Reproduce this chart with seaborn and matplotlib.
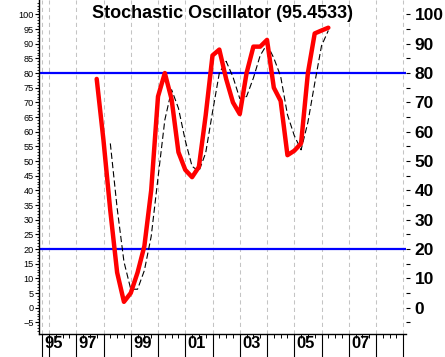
import numpy as np
import pandas as pd
import matplotlib
matplotlib.use("Agg")
import matplotlib.pyplot as plt
import matplotlib.transforms as mtransforms
from matplotlib.ticker import FixedLocator, NullFormatter
import seaborn as sns

# ---------------- data ----------------
quarters = np.arange(1997.75, 2006.26, 0.25)          # quarterly time axis (decimal years)
k_values = [78, 57, 33, 12, 2, 5, 12, 21, 40, 72, 80, 71, 53, 47, 44.5, 48, 65.6, 86,
            88, 78, 70, 66, 80, 89, 89, 91.3, 75, 70.5, 52, 53.5, 56, 80, 93.5, 94.5, 95.45]
d_values = [np.nan, np.nan, 56, 34, 15.7, 6.3, 6.3, 12.7, 24.3, 44.3, 64, 74.3, 68, 57,
            48.2, 46.5, 52.8, 66.7, 80, 84, 78.7, 71.3, 72, 78.3, 86, 89.8, 85.1, 78.9,
            65.8, 58.7, 53.8, 63.2, 76.5, 89.3, 94.5]
levels = [80, 20]
year_labels = ["95", "97", "99", "01", "03", "05", "07", "09"]
label_years = [1995.75, 1997, 1999, 2001, 2003, 2005, 2007, 2009]
title = "Stochastic Oscillator (95.4533)"

df = pd.DataFrame({"t": quarters, "k": k_values, "d": d_values})

# ---------------- figure ----------------
sns.set_style("white")
plt.rcParams["font.family"] = ["Liberation Sans", "DejaVu Sans"]
plt.rcParams["lines.scale_dashes"] = False

W, H = 445, 357
fig = plt.figure(figsize=(W / 100, H / 100), dpi=100)
L, R, T, B = 39, 406, 0, 334
ax = fig.add_axes([L / W, (H - B) / H, (R - L) / W, (B - T) / H])
ax.set_facecolor("white")

ymin, ymax = -8.97, 104.9
xmin, xmax = 1995.633, 2009.10
ax.set_xlim(xmin, xmax)
ax.set_ylim(ymin, ymax)

# vertical dashed grid
for gx in [1995.75] + list(range(1996, 2010)):
    ax.axvline(gx, color="#c4c4c4", lw=0.75, dashes=(3, 2.4), zorder=1)

# level lines
for lv in levels:
    ax.axhline(lv, color="#0000FF", lw=1.6, zorder=2)

# %D dashed black, %K red
sns.lineplot(data=df, x="t", y="d", ax=ax, color="black", lw=0.8, zorder=3,
             estimator=None, sort=False)
sns.lineplot(data=df, x="t", y="k", ax=ax, color="#FF0000", lw=3.2, zorder=4,
             estimator=None, sort=False)
ax.lines[-2].set_dashes((4.5, 2.2))
ax.set_xlabel("")
ax.set_ylabel("")

# spines
for s in ["top", "right"]:
    ax.spines[s].set_visible(False)
for s in ["left", "bottom"]:
    ax.spines[s].set_color("black")
    ax.spines[s].set_linewidth(1.0)

# left axis ticks
ax.yaxis.set_major_locator(FixedLocator(list(range(-5, 101, 5))))
ax.yaxis.set_minor_locator(FixedLocator(list(range(-8, 105, 1))))
ax.tick_params(axis="y", which="major", left=True, length=2.6, width=0.8,
               labelsize=6.6, pad=1, colors="black")
ax.tick_params(axis="y", which="minor", left=True, length=1.3, width=0.7)

# bottom ticks
ax.xaxis.set_major_locator(FixedLocator([1995.75] + list(range(1996, 2010))))
ax.xaxis.set_minor_locator(FixedLocator(list(np.arange(1996.0, 2009.0, 0.25))))
ax.xaxis.set_major_formatter(NullFormatter())
ax.tick_params(axis="x", which="major", bottom=True, length=17, width=0.8, colors="black")
ax.tick_params(axis="x", which="minor", bottom=True, length=2.6, width=0.7, colors="black")

# year labels, clipped at the right end of the axis area
clip = mtransforms.Bbox.from_extents(0, 0, R / W, 1)
clipbox = mtransforms.TransformedBbox(clip, fig.transFigure)
trans = mtransforms.blended_transform_factory(ax.transData, fig.transFigure) + \
    mtransforms.ScaledTranslation(2.5 / 100, 0, fig.dpi_scale_trans)
for xv, lab in zip(label_years, year_labels):
    t = ax.text(xv, 1 - 336 / H, lab, transform=trans, ha="left", va="top",
                fontsize=12, fontweight="bold", color="black")
    t.set_clip_box(clipbox)
    t.set_clip_on(True)

# right axis
ax2 = ax.twinx()
ax2.set_ylim(ymin, ymax)
for s in ax2.spines.values():
    s.set_visible(False)
ax2.yaxis.set_major_locator(FixedLocator(list(range(0, 101, 10))))
ax2.yaxis.set_minor_locator(FixedLocator(list(range(-5, 100, 10))))
ax2.yaxis.set_minor_formatter(NullFormatter())
ax2.tick_params(axis="y", which="both", right=True, length=2.6, width=0.8, colors="black")
ax2.tick_params(axis="y", which="major", labelsize=12.5, pad=3.5)
for lab in ax2.get_yticklabels():
    lab.set_fontweight("bold")

# title
ax.text(0.5, 1 - 18.5 / (B - T), title, transform=ax.transAxes, ha="center",
        va="baseline", fontsize=13, fontweight="bold", color="black", zorder=6)

fig.savefig("out.png", dpi=100, facecolor="white")
